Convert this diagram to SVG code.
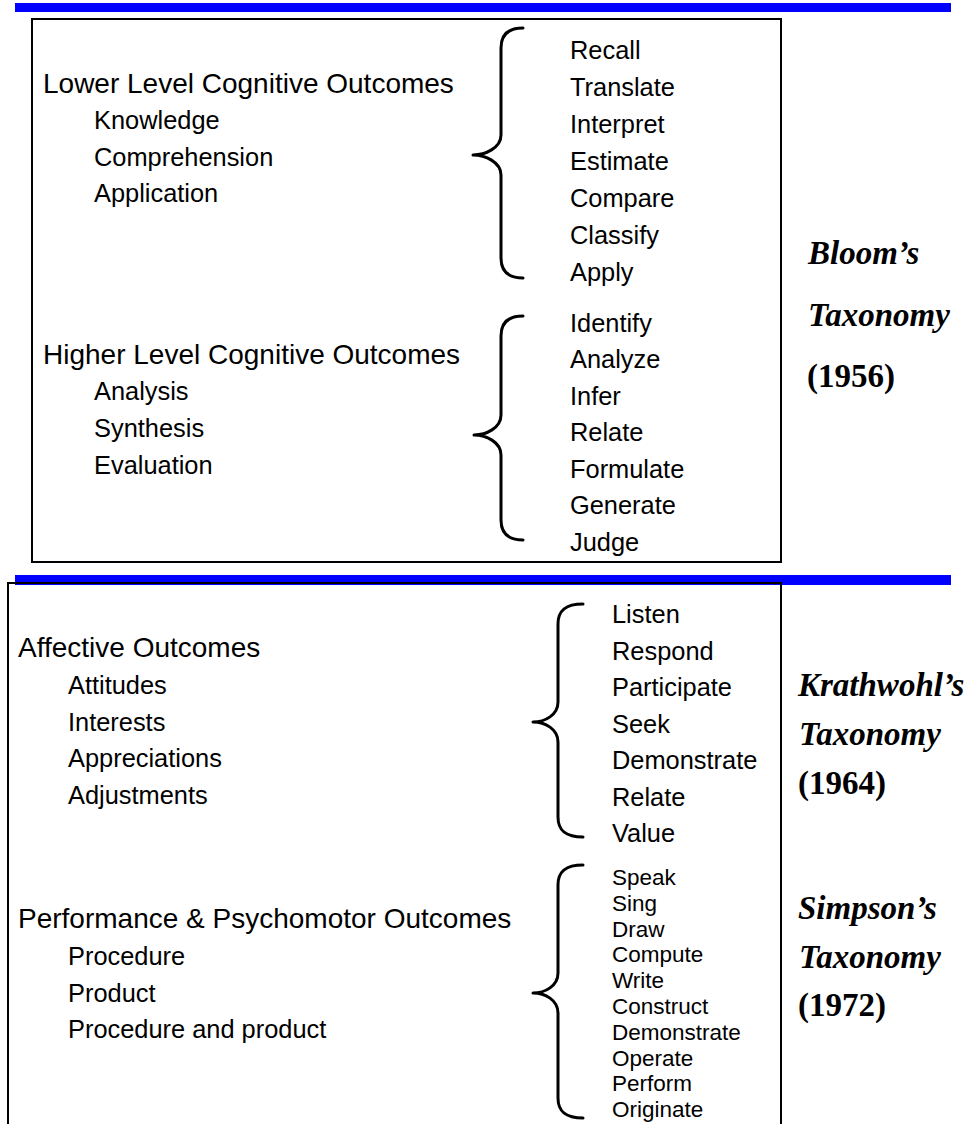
<svg xmlns="http://www.w3.org/2000/svg" width="973" height="1124" viewBox="0 0 973 1124">
<style>
.bar{fill:#0000ff}
.box{fill:none;stroke:#000;stroke-width:2}
.hd{font-family:"Liberation Sans",Arial,sans-serif;font-size:28px;fill:#000}
.it{font-family:"Liberation Sans",Arial,sans-serif;font-size:25.4px;fill:#000}
.sm{font-family:"Liberation Sans",Arial,sans-serif;font-size:22.5px;fill:#000}
.tx{font-family:"Liberation Serif","Times New Roman",serif;font-size:33px;font-weight:bold;font-style:italic;fill:#000}
.yr{font-family:"Liberation Serif","Times New Roman",serif;font-size:33px;font-weight:bold;fill:#000}
.br{fill:none;stroke:#000;stroke-width:3;stroke-linecap:round;stroke-linejoin:round}
</style>
<rect width="973" height="1124" fill="#fff"/>
<rect class="bar" x="15" y="3" width="936" height="9"/>
<rect class="bar" x="15" y="575" width="936" height="10"/>
<rect class="box" x="32" y="19" width="749" height="543"/>
<path class="box" d="M8,1126 V583 H781 V1126"/>

<g id="bloom-lower">
<text class="hd" x="43" y="93">Lower Level Cognitive Outcomes</text>
<text class="it" x="94" y="129">Knowledge</text>
<text class="it" x="94" y="166">Comprehension</text>
<text class="it" x="94" y="202">Application</text>
</g>
<g id="bloom-lower-verbs">
<text class="it" x="570" y="59">Recall</text>
<text class="it" x="570" y="96">Translate</text>
<text class="it" x="570" y="133">Interpret</text>
<text class="it" x="570" y="170">Estimate</text>
<text class="it" x="570" y="207">Compare</text>
<text class="it" x="570" y="244">Classify</text>
<text class="it" x="570" y="281">Apply</text>
</g>
<g id="bloom-higher">
<text class="hd" x="43" y="364">Higher Level Cognitive Outcomes</text>
<text class="it" x="94" y="400">Analysis</text>
<text class="it" x="94" y="437">Synthesis</text>
<text class="it" x="94" y="474">Evaluation</text>
</g>
<g id="bloom-higher-verbs">
<text class="it" x="570" y="332">Identify</text>
<text class="it" x="570" y="368">Analyze</text>
<text class="it" x="570" y="405">Infer</text>
<text class="it" x="570" y="441">Relate</text>
<text class="it" x="570" y="478">Formulate</text>
<text class="it" x="570" y="514">Generate</text>
<text class="it" x="570" y="551">Judge</text>
</g>
<g id="bloom-label">
<text class="tx" x="808" y="264">Bloom’s</text>
<text class="tx" x="808" y="326">Taxonomy</text>
<text class="yr" x="807" y="387">(1956)</text>
</g>

<g id="affective">
<text class="hd" x="18" y="657">Affective Outcomes</text>
<text class="it" x="68" y="694">Attitudes</text>
<text class="it" x="68" y="731">Interests</text>
<text class="it" x="68" y="767">Appreciations</text>
<text class="it" x="68" y="804">Adjustments</text>
</g>
<g id="affective-verbs">
<text class="it" x="612" y="623">Listen</text>
<text class="it" x="612" y="660">Respond</text>
<text class="it" x="612" y="696">Participate</text>
<text class="it" x="612" y="733">Seek</text>
<text class="it" x="612" y="769">Demonstrate</text>
<text class="it" x="612" y="806">Relate</text>
<text class="it" x="612" y="842">Value</text>
</g>
<g id="krathwohl-label">
<text class="tx" x="798" y="696">Krathwohl’s</text>
<text class="tx" x="799" y="745">Taxonomy</text>
<text class="yr" x="798" y="794">(1964)</text>
</g>

<g id="psychomotor">
<text class="hd" x="18" y="928">Performance &amp; Psychomotor Outcomes</text>
<text class="it" x="68" y="965">Procedure</text>
<text class="it" x="68" y="1002">Product</text>
<text class="it" x="68" y="1038">Procedure and product</text>
</g>
<g id="psychomotor-verbs">
<text class="sm" x="612" y="885">Speak</text>
<text class="sm" x="612" y="911">Sing</text>
<text class="sm" x="612" y="937">Draw</text>
<text class="sm" x="612" y="962">Compute</text>
<text class="sm" x="612" y="988">Write</text>
<text class="sm" x="612" y="1014">Construct</text>
<text class="sm" x="612" y="1040">Demonstrate</text>
<text class="sm" x="612" y="1066">Operate</text>
<text class="sm" x="612" y="1091">Perform</text>
<text class="sm" x="612" y="1117">Originate</text>
</g>
<g id="simpson-label">
<text class="tx" x="798" y="919">Simpson’s</text>
<text class="tx" x="799" y="968">Taxonomy</text>
<text class="yr" x="798" y="1016">(1972)</text>
</g>

<g id="connectors">
<path class="br" d="M523,28 C509,28 501,34 501,48 L501,135 C501,148 485,155 473,155 C485,155 501,162 501,175 L501,258 C501,272 509,278 523,278"/>
<path class="br" d="M523,316 C509,316 501,322 501,336 L501,415 C501,428 486,435 474,435 C486,435 501,442 501,455 L501,520 C501,534 509,540 523,540"/>
<path class="br" d="M583,604 C566,604 558,610 558,624 L558,702 C558,715 545,722 533,722 C545,722 558,729 558,742 L558,817 C558,831 566,837 583,837"/>
<path class="br" d="M583,865 C566,865 558,871 558,885 L558,973 C558,986 545,993 533,993 C545,993 558,1000 558,1013 L558,1098 C558,1112 566,1118 583,1118"/>
</g>
</svg>
